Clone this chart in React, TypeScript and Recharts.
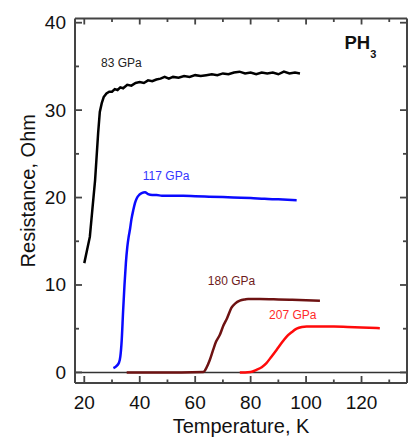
import { LineChart, Line, XAxis, YAxis, ReferenceLine, ReferenceDot } from "recharts"

// axis ticks (majors get labels, the rest are minor ticks)
const xTicks = [20, 30, 40, 50, 60, 70, 80, 90, 100, 110, 120, 130]
const yTicks = [0, 5, 10, 15, 20, 25, 30, 35, 40]

// 83 GPa
const t83 = [20.0, 21.0, 22.0, 22.9, 23.9, 25.0, 25.6, 26.3, 27.0, 28.0, 29.0, 30.0, 31.0, 32.0, 33.0, 34.0, 35.5, 37.0, 38.5, 40.0, 41.5, 43.0, 44.5, 46.0, 47.5, 49.0, 50.5, 52.0, 54.0, 56.0, 58.0, 60.0, 62.0, 64.0, 66.0, 68.0, 70.0, 72.0, 74.0, 76.0, 78.0, 80.0, 82.0, 84.0, 86.0, 88.0, 90.0, 92.0, 94.0, 96.0, 97.8]
const r83 = [12.5, 14.0, 15.5, 18.6, 22.0, 27.4, 29.8, 30.8, 31.5, 31.9, 32.1, 32.1, 32.4, 32.3, 32.6, 32.5, 32.9, 32.8, 33.1, 33.2, 33.1, 33.4, 33.3, 33.5, 33.6, 33.8, 33.6, 33.8, 33.7, 33.9, 33.8, 34.0, 33.9, 34.0, 34.1, 34.0, 34.2, 34.1, 34.3, 34.4, 34.2, 34.3, 34.1, 34.3, 34.2, 34.3, 34.1, 34.4, 34.2, 34.3, 34.2]

// 117 GPa
const t117 = [30.5, 31.5, 32.5, 33.0, 33.5, 34.0, 34.5, 35.0, 35.5, 36.0, 36.5, 37.0, 37.7, 38.3, 38.9, 39.8, 40.7, 41.9, 43.0, 44.5, 46.1, 48.0, 50.0, 52.1, 55.7, 60.0, 65.0, 70.0, 73.7, 80.0, 85.0, 90.0, 96.6]
const r117 = [0.5, 0.7, 1.1, 1.8, 3.7, 7.0, 10.0, 12.5, 14.3, 15.5, 16.4, 17.5, 18.6, 19.4, 19.9, 20.3, 20.5, 20.6, 20.4, 20.3, 20.3, 20.2, 20.2, 20.2, 20.2, 20.15, 20.1, 20.05, 20.0, 19.95, 19.85, 19.8, 19.7]

// 180 GPa
const t180 = [35.3, 45.0, 55.0, 62.9, 64.0, 65.3, 66.5, 67.5, 68.9, 70.1, 71.5, 73.1, 74.5, 76.1, 78.0, 79.1, 83.3, 90.0, 95.0, 100.0, 105.0]
const r180 = [0, 0, 0, 0.05, 0.5, 1.45, 2.6, 3.5, 4.3, 5.3, 6.2, 7.4, 7.9, 8.2, 8.35, 8.4, 8.4, 8.35, 8.3, 8.25, 8.2]

// 207 GPa
const t207 = [76.1, 78.0, 80.0, 82.1, 84.0, 85.7, 87.5, 89.4, 91.0, 93.0, 94.8, 96.6, 98.5, 100.2, 105.0, 110.0, 115.0, 120.0, 126.6]
const r207 = [0, 0, 0.05, 0.3, 0.6, 1.07, 1.8, 2.6, 3.3, 4.1, 4.6, 5.0, 5.2, 5.26, 5.25, 5.25, 5.2, 5.15, 5.05]

const toPoints = (t: number[], r: number[]) => t.map((v, i) => ({ t: v, r: r[i] }))

const FRAME = "#444"
const FONT = "'Liberation Sans', Arial, sans-serif"

const BottomTick = ({ x, y, payload }: any) => {
  const major = payload.value % 20 === 0
  return (
    <g>
      <line x1={x} y1={y} x2={x} y2={y - (major ? 7 : 3.5)} stroke={FRAME} strokeWidth={1.8} />
      {major && (
        <text x={x} y={y + 26} textAnchor="middle" fontSize={19} fill="#111">
          {payload.value}
        </text>
      )}
    </g>
  )
}

const TopTick = ({ x, y, payload }: any) => {
  const major = payload.value % 20 === 0
  return <line x1={x} y1={y} x2={x} y2={y + (major ? 6 : 3.5)} stroke={FRAME} strokeWidth={1.8} />
}

const LeftTick = ({ x, y, payload }: any) => {
  const major = payload.value % 10 === 0
  return (
    <g>
      <line x1={x} y1={y} x2={x + (major ? 7 : 4)} y2={y} stroke={FRAME} strokeWidth={1.8} />
      {major && (
        <text x={x - 9} y={y} textAnchor="end" dominantBaseline="central" fontSize={19} fill="#111">
          {payload.value}
        </text>
      )}
    </g>
  )
}

const RightTick = ({ x, y, payload }: any) => {
  const major = payload.value % 10 === 0
  return <line x1={x} y1={y} x2={x - (major ? 7 : 4)} y2={y} stroke={FRAME} strokeWidth={1.8} />
}

const tag = (text: string, color: string) => ({ viewBox }: any) => (
  <text
    x={viewBox.x + viewBox.width / 2}
    y={viewBox.y + viewBox.height / 2}
    textAnchor="middle"
    dominantBaseline="central"
    fontSize={12}
    fill={color}
  >
    {text}
  </text>
)

const formula = ({ viewBox }: any) => (
  <text x={viewBox.x} y={viewBox.y} fontSize={18.5} fontWeight="bold" fill="#111">
    PH
    <tspan fontSize={11} dy={9}>3</tspan>
  </text>
)

const yTitle = ({ viewBox }: any) => {
  const cx = viewBox.x + 13
  const cy = viewBox.y + viewBox.height / 2 - 10
  return (
    <text
      x={cx}
      y={cy}
      transform={`rotate(-90 ${cx} ${cy})`}
      textAnchor="middle"
      dominantBaseline="central"
      fontSize={20}
      fill="#111"
    >
      Resistance, Ohm
    </text>
  )
}

const xTitle = ({ viewBox }: any) => (
  <text x={viewBox.x + viewBox.width / 2} y={viewBox.y + 50} textAnchor="middle" fontSize={20} fill="#111">
    Temperature, K
  </text>
)

export default function App() {
  const xDomain = [16.65, 136.4]
  const yDomain = [-1.21, 40.48]

  return (
    <div style={{ position: "absolute", left: 0, top: 0, background: "#fff" }}>
      <LineChart
        width={412}
        height={439}
        margin={{ top: 17.5, right: 4, left: 15, bottom: 0 }}
        style={{ fontFamily: FONT }}
      >
        <XAxis
          type="number"
          dataKey="t"
          domain={xDomain}
          ticks={xTicks}
          interval={0}
          allowDataOverflow
          height={56}
          tickSize={0}
          tickMargin={0}
          tickLine={false}
          tick={<BottomTick />}
          axisLine={{ stroke: FRAME, strokeWidth: 2 }}
          label={{ content: xTitle }}
        />
        <XAxis
          xAxisId="top"
          orientation="top"
          type="number"
          dataKey="t"
          domain={xDomain}
          ticks={xTicks}
          interval={0}
          allowDataOverflow
          height={1}
          tickSize={0}
          tickMargin={0}
          tickLine={false}
          tick={<TopTick />}
          axisLine={{ stroke: FRAME, strokeWidth: 2 }}
        />
        <YAxis
          type="number"
          domain={yDomain}
          ticks={yTicks}
          interval={0}
          allowDataOverflow
          width={60}
          tickSize={0}
          tickMargin={0}
          tickLine={false}
          tick={<LeftTick />}
          axisLine={{ stroke: FRAME, strokeWidth: 2 }}
          label={{ content: yTitle }}
        />
        <YAxis
          yAxisId="right"
          orientation="right"
          type="number"
          domain={yDomain}
          ticks={yTicks}
          interval={0}
          allowDataOverflow
          width={1}
          tickSize={0}
          tickMargin={0}
          tickLine={false}
          tick={<RightTick />}
          axisLine={{ stroke: FRAME, strokeWidth: 2 }}
        />
        <ReferenceLine y={0} stroke="#333" strokeWidth={1.5} />
        <Line data={toPoints(t180, r180)} dataKey="r" type="monotone" stroke="#6e1212" strokeWidth={2.5} dot={false} isAnimationActive={false} />
        <Line data={toPoints(t207, r207)} dataKey="r" type="monotone" stroke="#ff0a0a" strokeWidth={2.5} dot={false} isAnimationActive={false} />
        <Line data={toPoints(t117, r117)} dataKey="r" type="monotone" stroke="#0a0aff" strokeWidth={2.5} dot={false} isAnimationActive={false} />
        <Line data={toPoints(t83, r83)} dataKey="r" type="linear" stroke="#000" strokeWidth={2.5} dot={false} isAnimationActive={false} />
        <ReferenceDot x={33.4} y={35.36} r={1} fill="none" stroke="none" label={tag("83 GPa", "#222")} />
        <ReferenceDot x={49.5} y={22.5} r={1} fill="none" stroke="none" label={tag("117 GPa", "#3535ff")} />
        <ReferenceDot x={73.1} y={10.5} r={1} fill="none" stroke="none" label={tag("180 GPa", "#6e1a1a")} />
        <ReferenceDot x={95.2} y={6.6} r={1} fill="none" stroke="none" label={tag("207 GPa", "#ff2a2a")} />
        <ReferenceDot x={114.2} y={36.9} r={1} fill="none" stroke="none" label={formula} />
      </LineChart>
    </div>
  )
}
